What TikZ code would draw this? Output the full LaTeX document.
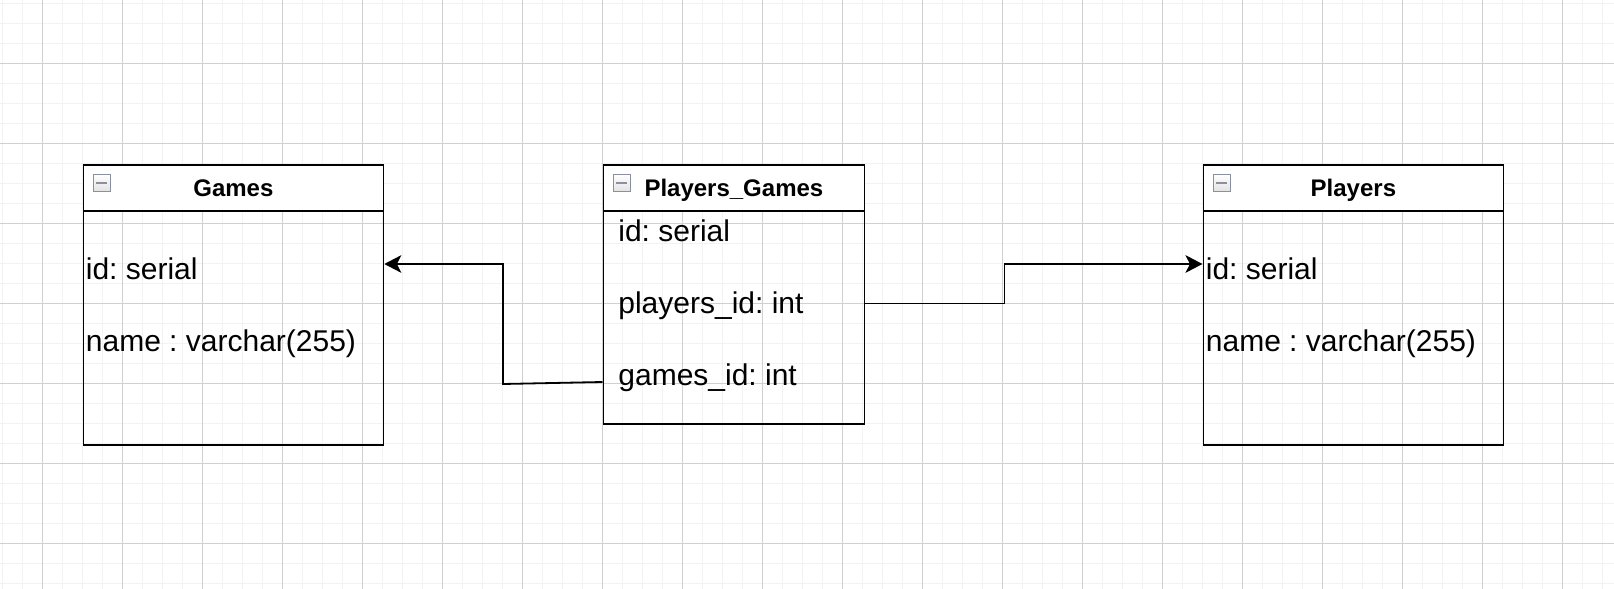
\documentclass[tikz,border=0pt]{standalone}
\usepackage{fontspec}
\setmainfont{Liberation Sans}
\usetikzlibrary{arrows.meta}
\usetikzlibrary{positioning}
\definecolor{gridminor}{RGB}{242,242,242}
\definecolor{gridmajor}{RGB}{208,208,208}
\definecolor{togglerim}{RGB}{138,144,160}
\newcommand\bodyfont{\fontsize{15pt}{18pt}\selectfont}
\newcommand\headfont{\fontsize{12pt}{14pt}\selectfont\bfseries}
\frenchspacing

\begin{document}
\begin{tikzpicture}[x=0.5pt,y=-0.5pt,>=Stealth]
\useasboundingbox (0,0) rectangle (1614,589);
\begin{scope}[node distance=0pt]

\tikzstyle{minor}=[draw=gridminor,line width=0.75pt]
\tikzstyle{major}=[draw=gridmajor,line width=0.5pt]
\tikzstyle{entity}=[
	draw,
	line width=0.9pt,
	rectangle,
	inner sep=0pt,
	anchor=north west
]
\tikzstyle{head}=[entity,
	fill=white,
	font=\headfont,
	minimum height=23pt,
	text height=8.6pt,
	text depth=0pt
]
\tikzstyle{field}=[font=\bodyfont,inner sep=0pt,anchor=base west]
\tikzstyle{toggle}=[
	draw=togglerim,
	line width=0.5pt,
	top color=white,
	bottom color=gray!22,
	minimum size=8.5pt,
	inner sep=0pt,
	path picture={\draw[line width=1pt]
		([xshift=1.3pt]path picture bounding box.west) --
		([xshift=-1.3pt]path picture bounding box.east);}
]
\tikzstyle{fk}=[draw=black,line width=0.9pt,
	-{Stealth[length=8.5pt,width=8.8pt,inset=2.2pt]}]

%% GRID
\foreach \gx in {2.3,22.3,...,1614} \draw[minor] (\gx,0) -- (\gx,589);
\foreach \gy in {3.3,23.3,...,589} \draw[minor] (0,\gy) -- (1614,\gy);
\foreach \gx in {42.3,122.3,...,1614} \draw[major] (\gx,0) -- (\gx,589);
\foreach \gy in {63.3,143.3,...,589} \draw[major] (0,\gy) -- (1614,\gy);

%% GAMES
\node (games) [entity,minimum width=150pt,minimum height=140pt] at (82.5,164) {};
\node (gamesHead) [head,minimum width=150pt] at (games.north west) {Games};
\node (gamesToggle) [toggle] at ([shift={(19,18.5)}]gamesHead.north west) {};
\node (gamesId) [field] at (85.5,279.3) {id: serial};
\node (gamesName) [field] at (85.5,351.7) {name : varchar(255)};

%% PLAYERS_GAMES
\node (pg) [entity,minimum width=130.5pt,minimum height=129.5pt] at (602.5,164) {};
\node (pgHead) [head,minimum width=130.5pt] at (pg.north west) {Players\_Games};
\node (pgToggle) [toggle] at ([shift={(19,18.5)}]pgHead.north west) {};
\node (pgId) [field] at (618,241.7) {id: serial};
\node (pgPlayersId) [field] at (618,313.3) {players\_id: int};
\node (pgGamesId) [field] at (618,385) {games\_id: int};

%% PLAYERS
\node (players) [entity,minimum width=150pt,minimum height=140pt] at (1202.5,164) {};
\node (playersHead) [head,minimum width=150pt] at (players.north west) {Players};
\node (playersToggle) [toggle] at ([shift={(19,18.5)}]playersHead.north west) {};
\node (playersId) [field] at (1205.5,279.3) {id: serial};
\node (playersName) [field] at (1205.5,351.7) {name : varchar(255)};

%% KEYS
\path (games.north east) ++(0,100) coordinate (gamesIdPort);
\path (players.north west) ++(0,100) coordinate (playersIdPort);
\path (pg.north west) ++(0,218) coordinate (pgGamesPort);
\path (pg.north east) ++(0,139.5) coordinate (pgPlayersPort);

\draw[fk] (pgGamesPort) -- ++(-99.5,2) |- (gamesIdPort);
\draw[fk] (pgPlayersPort) -- ++(139.2,0) |- (playersIdPort);

\end{scope}
\end{tikzpicture}
\end{document}
